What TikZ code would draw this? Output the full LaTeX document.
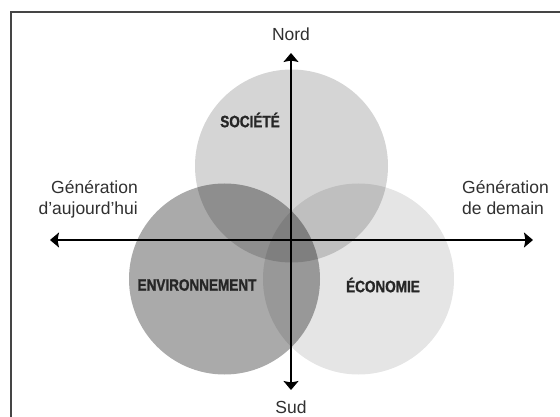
\documentclass[tikz,border=0pt]{standalone}
\usepackage{fontspec}
\usetikzlibrary{arrows.meta}
\newfontfamily\labelfont{Liberation Sans}
\newfontfamily\capsfont[FakeStretch=0.82, FakeBold=1.2]{Liberation Sans}
\definecolor{Soc}{HTML}{D5D5D5}
\definecolor{Env}{HTML}{AAAAAA}
\definecolor{Eco}{HTML}{E5E5E5}
\definecolor{frame}{HTML}{454545}
\definecolor{txt}{HTML}{303030}

\begin{document}
\begin{tikzpicture}[x=1pt, y=-1pt,
    pole/.style={font=\labelfont\fontsize{17.5}{21}\selectfont, text=txt, inner sep=0pt},
    pillar/.style={font=\capsfont\bfseries\fontsize{16.5}{18}\selectfont, text=black!85, inner sep=0pt},
    disc/.style={shape=circle, minimum size=191pt, inner sep=0pt}]
    \useasboundingbox (0,0) rectangle (560,417);
    \draw[line width=2pt, color=frame] (11,430) -- (11,12) -- (575,12);

    \begin{scope}[blend mode=multiply]
      \node at (291.5,166) (soc) [disc, fill=Soc, minimum size=193pt] {};
      \node at (224.5,279) (env) [disc, fill=Env] {};
      \node at (358.5,279) (eco) [disc, fill=Eco] {};
    \end{scope}

    \node at (250,120) [pillar] {SOCIÉTÉ};
    \node at (197,285) [pillar] {ENVIRONNEMENT};
    \node at (383,285) [pillar] {ÉCONOMIE};

    \coordinate (N) at (291,53);
    \coordinate (S) at (291,390);
    \coordinate (W) at (50,240);
    \coordinate (E) at (533,240);
    \draw[line width=1.3pt, {Stealth[length=9pt, width=15pt, inset=1.5pt]}-{Stealth[length=9pt, width=15pt, inset=1.5pt]}] (S) -- (N);
    \draw[line width=1.3pt, {Stealth[length=9pt, width=15pt, inset=1.5pt]}-{Stealth[length=9pt, width=15pt, inset=1.5pt]}] (W) -- (E);

    \node at (291,34) (nord) [pole] {Nord};
    \node at (291,407) (sud) [pole] {Sud};
    \node at (138,199) (today) [pole, anchor=east, align=right] {Génération\\d’aujourd’hui};
    \node at (462,198) (tomorrow) [pole, anchor=west, align=left] {Génération\\de demain};
  \end{tikzpicture}
\end{document}
